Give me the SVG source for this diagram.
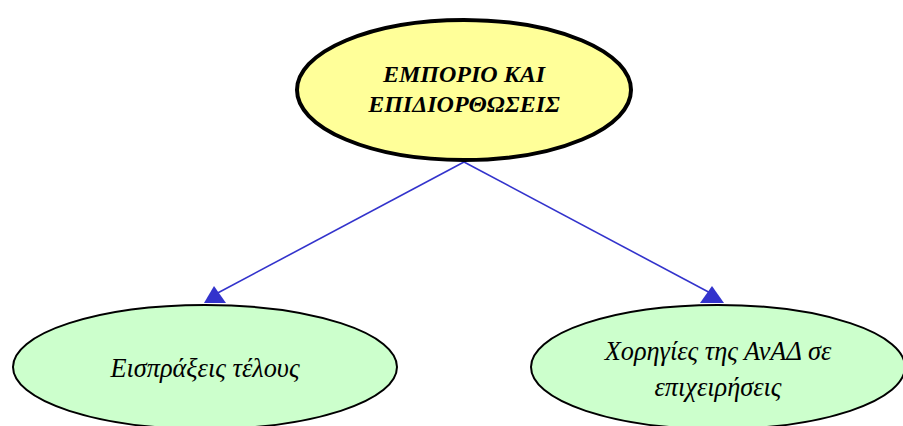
<svg xmlns="http://www.w3.org/2000/svg" width="903" height="426" viewBox="0 0 903 426">
<style>
.t{font-family:'Liberation Serif','Times New Roman',serif;font-style:italic;font-size:26.3px;fill:#000;text-anchor:middle}
.b{font-weight:bold;font-size:24px}
.leaf{fill:#ccffcc;stroke:#000;stroke-width:2}
.edge{stroke:#3333cc;stroke-width:1.6;fill:none}
</style>
<rect width="903" height="426" fill="#fff"/>
<g id="connectors">
<line class="edge" x1="464" y1="162" x2="212" y2="296"/>
<line class="edge" x1="464" y1="162" x2="716" y2="296"/>
<path d="M204,303 L214,286 L226,303 z" fill="#3333cc"/>
<path d="M700,303 L712,286 L724,303 z" fill="#3333cc"/>
</g>
<g id="root">
<ellipse cx="464" cy="90" rx="167" ry="70" fill="#ffff99" stroke="#000" stroke-width="4"/>
<text class="t b" x="464" y="82">ΕΜΠΟΡΙΟ ΚΑΙ</text>
<text class="t b" x="464" y="112">ΕΠΙΔΙΟΡΘΩΣΕΙΣ</text>
</g>
<g id="leaf1">
<ellipse class="leaf" cx="205" cy="367" rx="192" ry="62"/>
<text class="t" x="205" y="377">Εισπράξεις τέλους</text>
</g>
<g id="leaf2">
<ellipse class="leaf" cx="718" cy="367" rx="187" ry="62"/>
<text class="t" x="718" y="360">Χορηγίες της ΑνΑΔ σε</text>
<text class="t" x="718" y="396">επιχειρήσεις</text>
</g>
</svg>
